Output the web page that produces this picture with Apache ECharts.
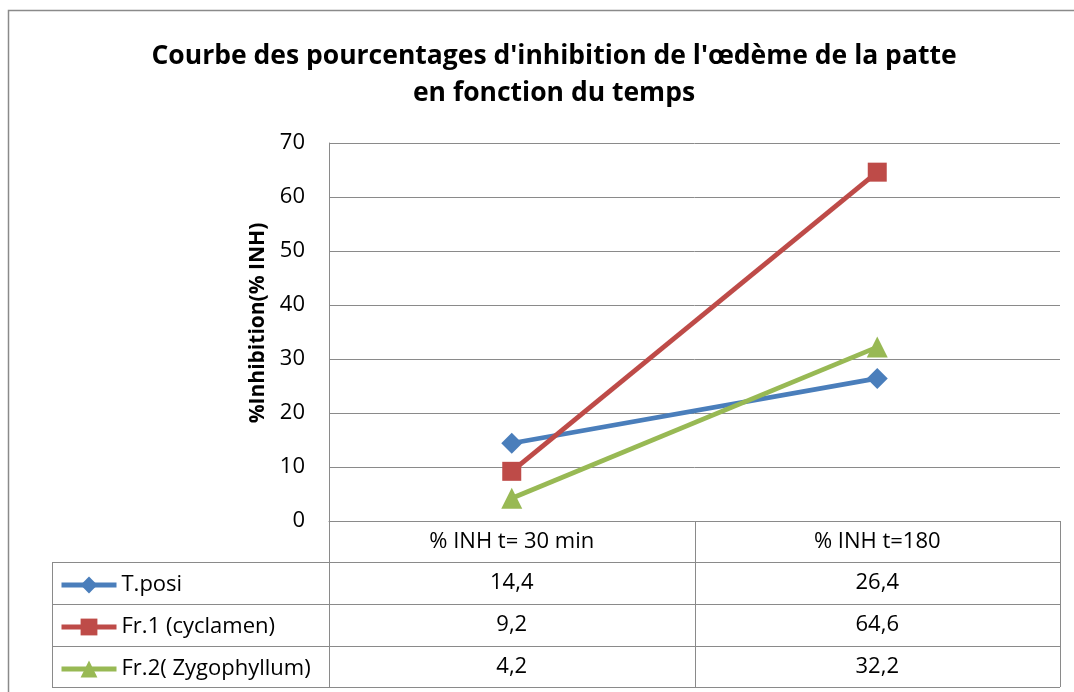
<!DOCTYPE html>
<html>
<head>
<meta charset="utf-8">
<script src="https://cdn.jsdelivr.net/npm/echarts@6/dist/echarts.min.js"></script>
<style>
  html, body { margin: 0; padding: 0; background: #fff; }
  #chart { width: 1074px; height: 692px; }
</style>
</head>
<body>
<div id="chart"></div>
<script>
// Time points (column headers of the data table)
const categories = ['% INH t= 30 min', '% INH t=180'];

// Series names and inhibition percentages
const seriesNames = ['T.posi', 'Fr.1 (cyclamen)', 'Fr.2( Zygophyllum)'];
const tposi = [14.4, 26.4];
const fr1Cyclamen = [9.2, 64.6];
const fr2Zygophyllum = [4.2, 32.2];

const yTicks = [0, 10, 20, 30, 40, 50, 60, 70];

const colors = ['#4A7EBB', '#BE4B48', '#98B954'];
const symbols = ['diamond', 'rect', 'triangle'];
const seriesData = [tposi, fr1Cyclamen, fr2Zygophyllum];

const FONT = '"Open Sans", "Liberation Sans", sans-serif';
const GRID_LEFT = 329, GRID_RIGHT = 1060, GRID_TOP = 143, GRID_BOTTOM = 521;
const ROW_EDGES = [521, 562, 604, 646, 687];
const TABLE_LEFT = 52;
const LINE_COLOR = '#8a8a8a';
const TABLE_FONT = 22;

const chart = echarts.init(document.getElementById('chart'), null, { renderer: 'canvas' });

function fmt(v) { return String(v).replace('.', ','); }

const option = {
  animation: false,
  backgroundColor: '#ffffff',
  title: {
    text: "Courbe des pourcentages d'inhibition de l'œdème de la patte\nen fonction du temps",
    left: 549,
    textAlign: 'center',
    top: 33,
    textStyle: { fontFamily: FONT, fontWeight: 'bold', fontSize: 26.5, lineHeight: 37, color: '#000' }
  },
  legend: {
    orient: 'vertical',
    left: 59,
    top: 572,
    padding: 0,
    itemWidth: 55,
    itemHeight: 21,
    itemGap: 16,
    selectedMode: false,
    lineStyle: { width: 5 },
    textStyle: { fontFamily: FONT, fontSize: TABLE_FONT, lineHeight: 26, color: '#000' },
    data: seriesNames
  },
  grid: {
    left: GRID_LEFT,
    right: 1074 - GRID_RIGHT,
    top: GRID_TOP,
    bottom: 692 - GRID_BOTTOM
  },
  xAxis: {
    type: 'category',
    data: categories,
    boundaryGap: true,
    axisLine: { show: true, lineStyle: { color: LINE_COLOR, width: 1 } },
    axisTick: { show: false },
    axisLabel: { margin: 10, fontFamily: FONT, fontSize: TABLE_FONT, color: '#000' },
    splitLine: { show: false }
  },
  yAxis: {
    type: 'value',
    min: yTicks[0],
    max: yTicks[yTicks.length - 1],
    interval: 10,
    name: '%Inhibition(% INH)',
    nameLocation: 'middle',
    nameRotate: 90,
    nameGap: 60,
    nameTextStyle: { fontFamily: FONT, fontWeight: 'bold', fontSize: 21, color: '#000', padding: [0, 0, 0, 18] },
    axisLine: { show: true, lineStyle: { color: LINE_COLOR, width: 1 } },
    axisTick: { show: false },
    axisLabel: { margin: 24, fontFamily: FONT, fontSize: 22, color: '#000' },
    splitLine: { show: true, lineStyle: { color: LINE_COLOR, width: 1 } }
  },
  series: seriesNames.map((name, i) => ({
    name: name,
    type: 'line',
    data: seriesData[i],
    symbol: symbols[i],
    symbolSize: i === 1 ? 19 : 21,
    showSymbol: true,
    lineStyle: { color: colors[i], width: 4.8 },
    itemStyle: { color: colors[i] },
    z: 3 + i
  }))
};

chart.setOption(option);

// Data table: borders plus value cells placed at each category's centre
const graphics = [];
const lineShape = (x1, y1, x2, y2) => ({
  type: 'line',
  shape: { x1: x1, y1: y1, x2: x2, y2: y2 },
  style: { stroke: LINE_COLOR, lineWidth: 1 },
  silent: true
});

// outer chart frame
graphics.push({
  type: 'rect',
  shape: { x: 8.5, y: 10.5, width: 1100, height: 700 },
  style: { fill: null, stroke: LINE_COLOR, lineWidth: 1.5 },
  silent: true
});

// horizontal rules of the table
for (let r = 1; r < ROW_EDGES.length; r++) {
  const y = ROW_EDGES[r] + 0.5;
  graphics.push(lineShape(TABLE_LEFT, y, GRID_RIGHT, y));
}
// vertical rules
graphics.push(lineShape(TABLE_LEFT + 0.5, ROW_EDGES[1], TABLE_LEFT + 0.5, ROW_EDGES[4]));
const band = (GRID_RIGHT - GRID_LEFT) / categories.length;
for (let c = 0; c <= categories.length; c++) {
  const x = Math.round(GRID_LEFT + c * band) + 0.5;
  graphics.push(lineShape(x, c === 0 ? GRID_TOP : GRID_BOTTOM, x, ROW_EDGES[4]));
}

// value cells
categories.forEach((cat, c) => {
  const cx = chart.convertToPixel({ xAxisIndex: 0 }, cat);
  seriesData.forEach((vals, s) => {
    const cy = (ROW_EDGES[s + 1] + ROW_EDGES[s + 2]) / 2;
    graphics.push({
      type: 'text',
      x: cx,
      y: cy,
      style: {
        text: fmt(vals[c]),
        fontFamily: FONT,
        fontSize: TABLE_FONT,
        fill: '#000',
        textAlign: 'center',
        textVerticalAlign: 'middle'
      },
      silent: true
    });
  });
});

chart.setOption({ graphic: graphics });
</script>
</body>
</html>
